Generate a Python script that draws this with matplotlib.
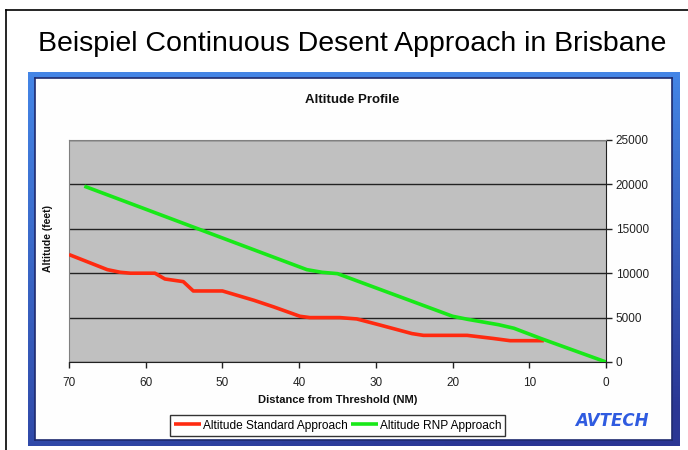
import numpy as np
import matplotlib.pyplot as plt
from matplotlib.lines import Line2D

plt.rcParams['font.family'] = ['Liberation Sans', 'DejaVu Sans']

# --- data ---
std_dist = [70, 65, 63.3, 62, 58.8, 57.5, 55.1, 53.8, 50, 45.9, 43.3, 39.9, 38.6,
            34.7, 32.5, 29.4, 25.3, 23.8, 18.1, 14.7, 12.5, 8.1]
std_alt = [12100, 10400, 10100, 10000, 10000, 9350, 9050, 8000, 8000, 6950, 6200, 5150, 5000,
           5000, 4850, 4150, 3200, 3000, 3000, 2650, 2400, 2400]

rnp_dist = [68, 39, 37, 35, 20, 18, 14, 12, 8.5, 0]
rnp_alt = [19800, 10400, 10100, 9950, 5150, 4800, 4200, 3800, 2650, 0]

x_ticks = [70, 60, 50, 40, 30, 20, 10, 0]
y_ticks = [0, 5000, 10000, 15000, 20000, 25000]

W, H = 688, 450
fig = plt.figure(figsize=(W / 100, H / 100), dpi=100)
fig.patch.set_facecolor('white')


def box(x0, y0, x1, y1):
    # pixel box (top-left origin) -> figure fraction rect
    return [x0 / W, (H - y1) / H, (x1 - x0) / W, (y1 - y0) / H]


# outer frame lines (top and left)
fig.add_artist(Line2D([6 / W, 6 / W], [0, (H - 10) / H], color='black', lw=1.2))
fig.add_artist(Line2D([6 / W, 1], [(H - 10) / H, (H - 10) / H], color='black', lw=1.2))

fig.text(352 / W, (H - 44) / H, 'Beispiel Continuous Desent Approach in Brisbane',
         ha='center', va='center', fontsize=20.5, color='black')

# blue gradient frame
bg = fig.add_axes(box(28, 72, 680, 446))
gy, gx = np.mgrid[0:1:100j, 0:1:100j]
t = np.clip(0.75 * gy + 0.35 * gx * gy, 0, 1)
top = np.array([0x44, 0x85, 0xE6]) / 255
bot = np.array([0x2A, 0x36, 0x94]) / 255
img = top[None, None, :] * (1 - t[..., None]) + bot[None, None, :] * t[..., None]
bg.imshow(img, aspect='auto', extent=[0, 1, 0, 1], origin='upper')
bg.set_axis_off()

# white chart area
inner = fig.add_axes(box(35, 78, 672, 440))
inner.set_facecolor('#FEFEFE')
inner.set_xticks([])
inner.set_yticks([])
for s in inner.spines.values():
    s.set_color('#1E2A6E')
    s.set_linewidth(1.2)

fig.text(352 / W, (H - 100) / H, 'Altitude Profile', ha='center', va='center',
         fontsize=9.5, fontweight='bold', color='#111111')

ax = fig.add_axes(box(69, 140, 606, 362))
ax.set_facecolor('#C0C0C0')
ax.plot(std_dist, std_alt, color='#FF2A10', lw=2.6, solid_capstyle='butt',
        label='Altitude Standard Approach', zorder=3)
ax.plot(rnp_dist, rnp_alt, color='#18E818', lw=2.6, solid_capstyle='butt',
        label='Altitude RNP Approach', zorder=4)

ax.set_xlim(70, 0)
ax.set_ylim(0, 25000)
ax.set_xticks(x_ticks)
ax.set_yticks(y_ticks)
ax.yaxis.tick_right()
ax.tick_params(axis='both', direction='out', length=4, width=1, labelsize=8.5,
               colors='#222222', pad=3)
ax.tick_params(axis='x', pad=7)
ax.grid(axis='y', color='#222222', lw=1, zorder=1)
ax.set_axisbelow(True)
for side in ('left', 'top'):
    ax.spines[side].set_color('#808080')
for side in ('bottom', 'right'):
    ax.spines[side].set_color('#222222')

ax.set_xlabel('Distance from Threshold (NM)', fontsize=8, fontweight='bold',
              color='#111111', labelpad=4)
fig.text(48 / W, (H - 238) / H, 'Altitude (feet)', rotation=90, ha='center',
         va='center', fontsize=7.5, fontweight='bold', color='#111111')

leg = fig.legend(loc='center', bbox_to_anchor=(337.5 / W, (H - 425.5) / H), ncol=2,
                 fontsize=8.6, frameon=True, fancybox=False, handlelength=2.3,
                 handletextpad=0.1, columnspacing=0.3, borderpad=0.35,
                 edgecolor='black')
leg.get_frame().set_linewidth(1)

fig.text(612 / W, (H - 421) / H, 'AVTECH', ha='center', va='center', fontsize=12,
         fontweight='heavy', style='italic', family='DejaVu Sans', color='#2F5BE0')

fig.savefig('out.png', dpi=100)
